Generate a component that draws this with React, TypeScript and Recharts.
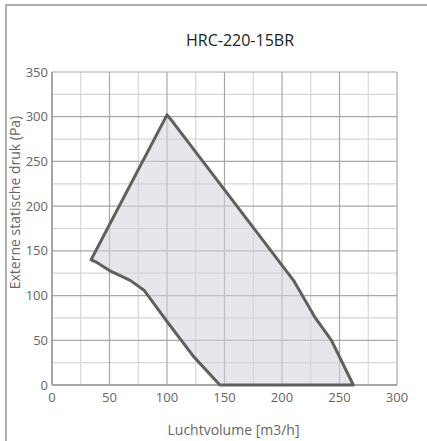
import React from 'react';
import { ComposedChart, Scatter, XAxis, YAxis, CartesianGrid, Label } from 'recharts';

// Operating envelope outline (Luchtvolume m3/h vs Externe statische druk Pa)
const flowValues = [34, 100, 104, 210, 229, 243, 262, 146, 123, 100, 80, 68, 50, 39, 34];
const pressureValues = [140, 302, 296, 117, 75, 50, 0, 0, 32, 71, 106, 117, 128, 137, 140];

const xMajorTicks = [0, 50, 100, 150, 200, 250, 300];
const xMinorTicks = [25, 75, 125, 175, 225, 275];
const yMajorTicks = [0, 50, 100, 150, 200, 250, 300, 350];
const yMinorTicks = [25, 75, 125, 175, 225, 275, 325];

const titleText = 'HRC-220-15BR';
const xLabelText = 'Luchtvolume [m3/h]';
const yLabelText = 'Externe statische druk (Pa)';

const envelope = flowValues.map((x, i) => ({ x, y: pressureValues[i] }));

const FONT = '"Open Sans", sans-serif';

const XLabel = (props: any) => {
  const vb = props.viewBox || { x: 52, y: 385, width: 345 };
  return (
    <text x={vb.x + vb.width / 2 + 9} y={vb.y + 44} textAnchor="middle" dominantBaseline="central"
      style={{ fontFamily: FONT, fontSize: 14, fill: '#666' }}>
      {xLabelText}
    </text>
  );
};

const YLabel = (props: any) => {
  const vb = props.viewBox || { x: 0, y: 72, height: 313 };
  const cx = 14;
  const cy = vb.y + vb.height / 2 - 26;
  return (
    <text x={cx} y={cy} transform={`rotate(-90 ${cx} ${cy})`} textAnchor="middle" dominantBaseline="central"
      style={{ fontFamily: FONT, fontSize: 14, fill: '#666' }}>
      {yLabelText}
    </text>
  );
};

export default function App() {
  return (
    <div style={{ position: 'absolute', left: 0, top: 0, width: 427, height: 441, background: '#fff' }}>
      <div style={{ position: 'absolute', left: 0, top: 0, width: 427, height: 441 }}>
        <ComposedChart width={427} height={441} data={envelope} margin={{ top: 72, right: 30, bottom: 26, left: 0 }}>
          <CartesianGrid verticalValues={xMinorTicks} horizontalValues={yMinorTicks} stroke="#d6d6d6" strokeWidth={1.2} />
          <CartesianGrid stroke="#a8a8a8" strokeWidth={1.2} />
          <XAxis type="number" dataKey="x" domain={[0, 300]} ticks={xMajorTicks} interval={0}
            axisLine={{ stroke: '#9a9a9a', strokeWidth: 1.5 }} tickLine={false} tickSize={6} tickMargin={2}
            tick={{ fontFamily: FONT, fontSize: 13, fill: '#666' }} height={30}>
            <Label content={<XLabel />} position="bottom" />
          </XAxis>
          <YAxis type="number" dataKey="y" domain={[0, 350]} ticks={yMajorTicks} interval={0} width={52}
            axisLine={{ stroke: '#9a9a9a', strokeWidth: 1.5 }} tickLine={false} tickSize={4} tickMargin={0}
            tick={{ fontFamily: FONT, fontSize: 13, fill: '#666' }}>
            <Label content={<YLabel />} position="insideLeft" />
          </YAxis>
          <Scatter data={envelope} isAnimationActive={false} fill="#5e5e5e"
            shape={() => <g />}
            line={{ stroke: '#606060', strokeWidth: 3, fill: '#d2d4d9', fillOpacity: 0.55, strokeLinejoin: 'round', strokeLinecap: 'round' } as any} />
        </ComposedChart>
      </div>
      <div style={{ position: 'absolute', left: 5, top: 4, width: 422, height: 437, borderTop: '2px solid #b0b0b0', borderLeft: '2px solid #b0b0b0', boxSizing: 'border-box', pointerEvents: 'none' }} />
      <div style={{ position: 'absolute', left: 0, top: 30, width: 480, textAlign: 'center', fontFamily: FONT, fontSize: 16, color: '#222', lineHeight: '20px' }}>
        {titleText}
      </div>
    </div>
  );
}
